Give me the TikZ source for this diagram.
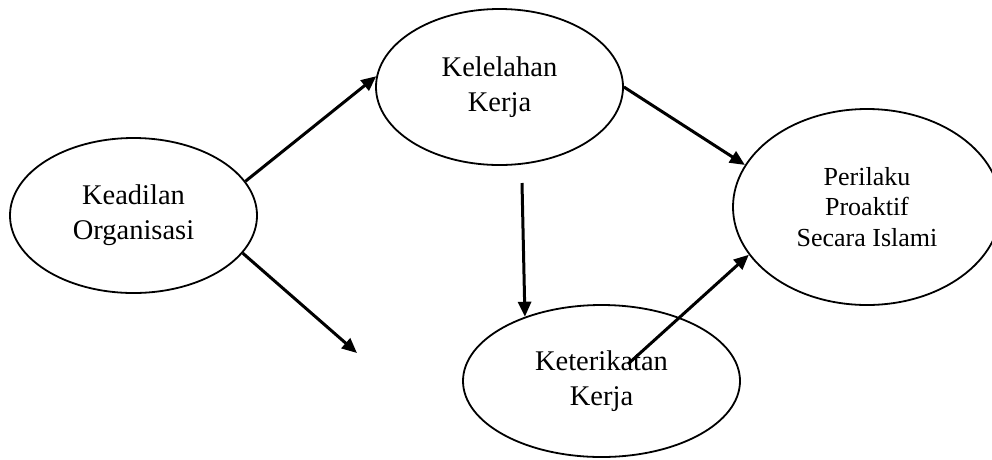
\documentclass[tikz,border=0pt]{standalone}
\usepackage{fontspec}
\setmainfont{Liberation Serif}
\usetikzlibrary{shapes.geometric,arrows.meta}
\begin{document}
\begin{tikzpicture}[x=1pt,y=-1pt,
  var/.style={draw,ellipse,line width=1.8pt,inner sep=0pt,align=center,
    font=\fontsize{28.5}{35}\selectfont},
  conn/.style={line width=3pt,-{Triangle[length=15pt,width=13pt]}}]
\useasboundingbox (0,0) rectangle (992,459);
\node[var,minimum width=247pt,minimum height=155pt] (ka) at (133.5,215.5) {Keadilan\\Organisasi};
\node[var,minimum width=247pt,minimum height=156pt] (kk) at (499.5,87) {Kelelahan\\Kerja};
\node[var,minimum width=277pt,minimum height=152pt] (kt) at (601.5,381) {Keterikatan\\Kerja};
\node[var,minimum width=268pt,minimum height=196pt,font=\fontsize{26}{30.5}\selectfont] (pp) at (867,207) {Perilaku\\Proaktif\\Secara Islami};
\coordinate (free) at (357,353);
\coordinate (s4) at (522,183);
\coordinate (s5) at (628,364);
\draw[conn] (ka.17.7) -- (kk.175.4);
\draw[conn] (ka.-19.8) -- (free);
\draw[conn] (kk.0) -- (pp.161.7);
\draw[conn] (s4) -- (kt.140.7);
\draw[conn] (s5) -- (pp.-158.2);
\end{tikzpicture}
\end{document}
